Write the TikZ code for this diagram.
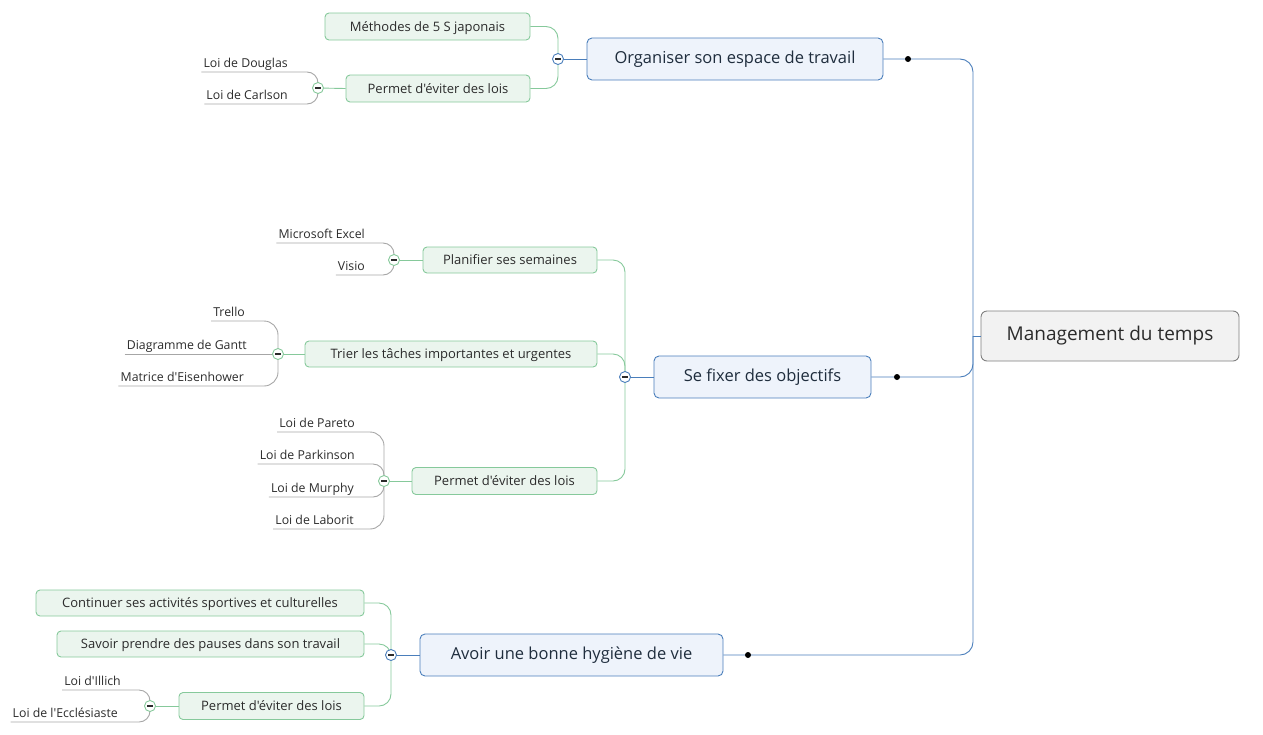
\documentclass[tikz,border=0pt]{standalone}
\usepackage{fontspec}
\setmainfont{Open Sans}[Ligatures=TeXOff]
\definecolor{blueline}{HTML}{4A7EBB}
\definecolor{bluefill}{HTML}{EEF3FB}
\definecolor{greenline}{HTML}{86C99B}
\definecolor{greenfill}{HTML}{EBF5EE}
\definecolor{grayline}{HTML}{A6A6A6}
\definecolor{rootfill}{HTML}{F2F2F2}
\definecolor{rootline}{HTML}{7F7F7F}
\definecolor{txt}{HTML}{2B2B2B}
\definecolor{maintxt}{HTML}{1F2D3D}
\begin{document}
\begin{tikzpicture}[x=1pt,y=-1pt,
  boxtext/.style={text height=0.95em,text depth=0pt},
  rootbox/.style={boxtext,draw=rootline,fill=rootfill,rounded corners=6pt,line width=0.9pt,text=txt,font=\fontsize{19}{22}\selectfont,inner sep=0pt},
  mainbox/.style={boxtext,draw=blueline,fill=bluefill,rounded corners=5pt,line width=0.9pt,text=maintxt,font=\fontsize{16.5}{19}\selectfont,inner sep=0pt},
  subbox/.style={boxtext,draw=greenline,fill=greenfill,rounded corners=4pt,line width=0.9pt,text=txt,font=\fontsize{13}{15}\selectfont,inner sep=0pt,minimum height=27pt},
  leaf/.style={anchor=south east,text=txt,font=\fontsize{12.3}{14}\selectfont,inner xsep=2pt,inner ysep=4pt,text depth=0pt},
  bline/.style={draw=blueline,line width=0.9pt},
  gline/.style={draw=greenline,line width=0.9pt},
  lline/.style={draw=grayline,line width=0.9pt},
  togglebase/.style={circle,fill=white,line width=0.9pt,minimum size=11pt,inner sep=0pt,
    path picture={\draw[line width=1.3pt,txt] ([xshift=-2.6pt]path picture bounding box.center) -- ([xshift=2.6pt]path picture bounding box.center);}},
  btog/.style={togglebase,draw=blueline},
  gtog/.style={togglebase,draw=greenline},
  dot/.style={circle,fill=black,minimum size=6pt,inner sep=0pt}
]
\useasboundingbox (0,0) rectangle (1263,734);

% root and main boxes
\node[rootbox,minimum width=258pt,minimum height=50pt] (root) at (1110,336) {Management du temps};
\node[mainbox,minimum width=296pt,minimum height=42pt] (org) at (735,59) {Organiser son espace de travail};
\node[mainbox,minimum width=217pt,minimum height=42pt] (obj) at (762.5,377) {Se fixer des objectifs};
\node[mainbox,minimum width=303pt,minimum height=42pt] (hyg) at (571.5,655) {Avoir une bonne hygiène de vie};

\coordinate (t) at (973,336);
\draw[bline,rounded corners=13pt] (org.east) -| (t);
\draw[bline,rounded corners=13pt] (obj.east) -| (t);
\draw[bline,rounded corners=13pt] (hyg.east) -| (t);
\draw[bline] (t) -- (root.west);
\node[dot] (d1) at (908,59) {};
\node[dot] (d2) at (897,377) {};
\node[dot] (d3) at (748,655) {};

% sub boxes
\node[subbox,minimum width=205pt] (meth) at (427.5,26.5) {Méthodes de 5 S japonais};
\node[subbox,minimum width=184pt] (perm1) at (438,88.5) {Permet d'éviter des lois};
\node[subbox,minimum width=174pt,minimum height=26pt] (plan) at (510,260) {Planifier ses semaines};
\node[subbox,minimum width=292pt,minimum height=26pt] (trier) at (451,354) {Trier les tâches importantes et urgentes};
\node[subbox,minimum width=185pt] (perm2) at (504.5,481) {Permet d'éviter des lois};
\node[subbox,minimum width=328pt,minimum height=26pt] (cont) at (200,603) {Continuer ses activités sportives et culturelles};
\node[subbox,minimum width=307pt,minimum height=26pt] (sav) at (210.5,644) {Savoir prendre des pauses dans son travail};
\node[subbox,minimum width=185pt] (perm3) at (271.5,706) {Permet d'éviter des lois};

% toggles coordinates
\coordinate (p1) at (558,59);
\coordinate (p11) at (318,88);
\coordinate (p2) at (625,377);
\coordinate (p21) at (394,260);
\coordinate (p22) at (278,354);
\coordinate (p23) at (384,481);
\coordinate (p3) at (391,655);
\coordinate (p31) at (150,706);

% connectors main -> toggles
\draw[bline] (p1) -- (org.west);
\draw[bline] (p2) -- (obj.west);
\draw[bline] (p3) -- (hyg.west);
\draw[gline,rounded corners=12pt] (meth.east) -| (p1);
\draw[gline,rounded corners=12pt] (perm1.east) -| (p1);
\draw[gline,rounded corners=12pt] (plan.east) -| (p2);
\draw[gline,rounded corners=12pt] (trier.east) -| (p2);
\draw[gline,rounded corners=12pt] (perm2.east) -| (p2);
\draw[gline,rounded corners=12pt] (cont.east) -| (p3);
\draw[gline,rounded corners=12pt] (sav.east) -| (p3);
\draw[gline,rounded corners=12pt] (perm3.east) -| (p3);

\draw[gline] (p11) -- (perm1.west);
\draw[gline] (p21) -- (plan.west);
\draw[gline] (p22) -- (trier.west);
\draw[gline] (p23) -- (perm2.west);
\draw[gline] (p31) -- (perm3.west);

% leaves
\node[leaf] (ldoug) at (290,72) {Loi de Douglas};
\node[leaf] (lcarl) at (290,104) {Loi de Carlson};
\node[leaf] (lexc) at (367,243) {Microsoft Excel};
\node[leaf] (lvis) at (367,275) {Visio};
\node[leaf] (ltre) at (247,321) {Trello};
\node[leaf] (lgan) at (249,354) {Diagramme de Gantt};
\node[leaf] (leis) at (246,386) {Matrice d'Eisenhower};
\node[leaf] (lpar) at (357,432) {Loi de Pareto};
\node[leaf] (lpak) at (357,464) {Loi de Parkinson};
\node[leaf] (lmur) at (356,497) {Loi de Murphy};
\node[leaf] (llab) at (356,529) {Loi de Laborit};
\node[leaf] (lill) at (123,690) {Loi d'Illich};
\node[leaf] (lecc) at (120,722) {Loi de l'Ecclésiaste};

\draw[lline,rounded corners=11pt] (ldoug.south west) -- (ldoug.south east) -| (p11);
\draw[lline,rounded corners=11pt] (lcarl.south west) -- (lcarl.south east) -| (p11);
\draw[lline,rounded corners=11pt] (lexc.south west) -- (lexc.south east) -| (p21);
\draw[lline,rounded corners=11pt] (lvis.south west) -- (lvis.south east) -| (p21);
\draw[lline,rounded corners=14pt] (ltre.south west) -- (ltre.south east) -| (p22);
\draw[lline] (lgan.south west) -- (p22);
\draw[lline,rounded corners=14pt] (leis.south west) -- (leis.south east) -| (p22);
\draw[lline,rounded corners=14pt] (lpar.south west) -- (lpar.south east) -| (p23);
\draw[lline,rounded corners=11pt] (lpak.south west) -- (lpak.south east) -| (p23);
\draw[lline,rounded corners=11pt] (lmur.south west) -- (lmur.south east) -| (p23);
\draw[lline,rounded corners=14pt] (llab.south west) -- (llab.south east) -| (p23);
\draw[lline,rounded corners=11pt] (lill.south west) -- (lill.south east) -| (p31);
\draw[lline,rounded corners=11pt] (lecc.south west) -- (lecc.south east) -| (p31);

% toggles
\node[btog] (c1) at (p1) {};
\node[btog] (c2) at (p2) {};
\node[btog] (c3) at (p3) {};
\node[gtog] (c11) at (p11) {};
\node[gtog] (c21) at (p21) {};
\node[gtog] (c22) at (p22) {};
\node[gtog] (c23) at (p23) {};
\node[gtog] (c31) at (p31) {};
\end{tikzpicture}
\end{document}
